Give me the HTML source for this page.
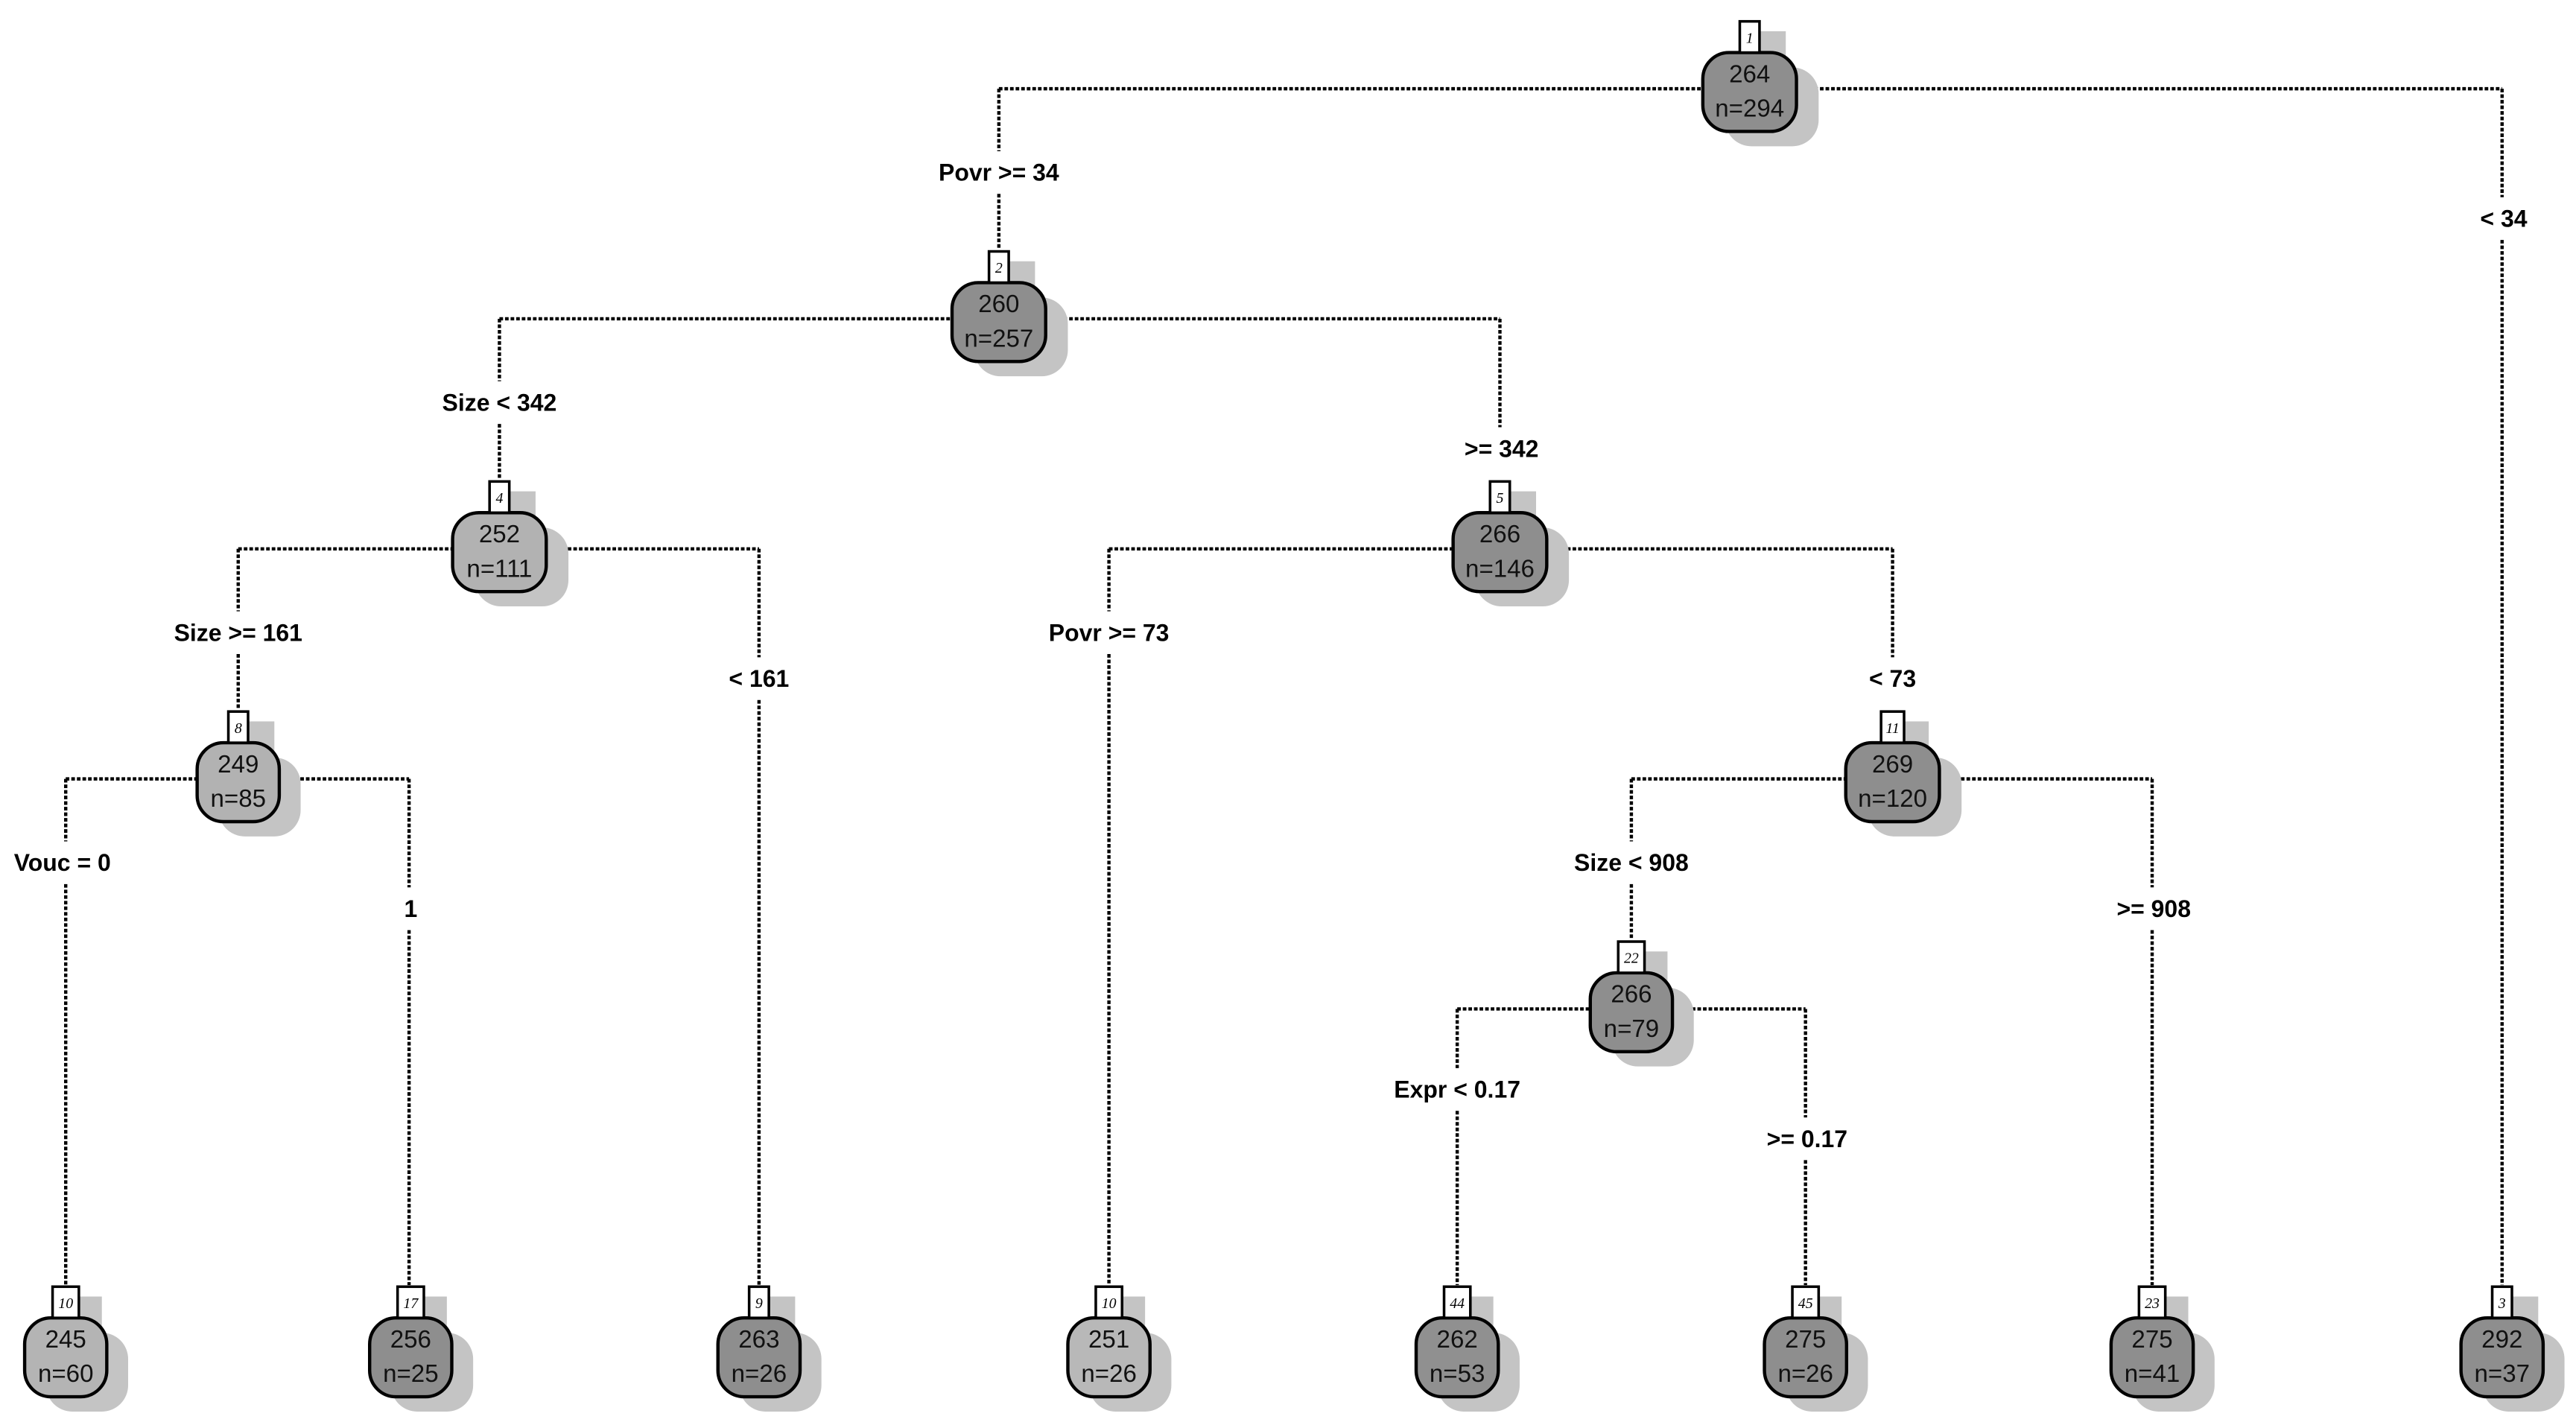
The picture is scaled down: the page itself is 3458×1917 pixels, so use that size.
<!DOCTYPE html>
<html><head><meta charset="utf-8"><style>
html,body{margin:0;padding:0;background:#fff;}
svg{display:block;}
.l{stroke:#000;stroke-width:2;stroke-dasharray:2.2 1.2;fill:none;}
.lab{font-family:"Liberation Sans",sans-serif;font-weight:bold;font-size:14.5px;text-anchor:middle;}
.nt{font-family:"Liberation Sans",sans-serif;font-size:15px;text-anchor:middle;fill:#111;}
.tg{font-family:"Liberation Serif",serif;font-style:italic;font-size:9px;text-anchor:middle;}
.s{fill:#c4c4c4;}
</style></head><body>
<svg width="3458" height="1917" viewBox="0 0 1568 869" preserveAspectRatio="none" xmlns="http://www.w3.org/2000/svg">
<rect width="1568" height="869" fill="#fff"/>
<g class="l">
<path d="M608 54H1523M608 54V92M608 118V152"/>
<path d="M1523 54V120M1523 146V782"/>
<path d="M304 194H913M304 194V232M304 258V292"/>
<path d="M913 194V260"/>
<path d="M145 334H462M145 334V372M145 398V432"/>
<path d="M462 334V400M462 426V782"/>
<path d="M675 334H1152M675 334V372M675 398V782"/>
<path d="M1152 334V400"/>
<path d="M40 474H249M40 474V512M40 538V782"/>
<path d="M249 474V540M249 566V782"/>
<path d="M993 474H1310M993 474V512M993 538V572"/>
<path d="M1310 474V540M1310 566V782"/>
<path d="M887 614H1099M887 614V650M887 676V782"/>
<path d="M1099 614V680M1099 706V782"/>
</g>
<g class="lab">
<text x="608" y="110">Povr &gt;= 34</text>
<text x="1524" y="138">&lt; 34</text>
<text x="304" y="250">Size &lt; 342</text>
<text x="914" y="278">&gt;= 342</text>
<text x="145" y="390">Size &gt;= 161</text>
<text x="462" y="418">&lt; 161</text>
<text x="675" y="390">Povr &gt;= 73</text>
<text x="1152" y="418">&lt; 73</text>
<text x="38" y="530">Vouc = 0</text>
<text x="250" y="558">1</text>
<text x="993" y="530">Size &lt; 908</text>
<text x="1311" y="558">&gt;= 908</text>
<text x="887" y="668">Expr &lt; 0.17</text>
<text x="1100" y="698">&gt;= 0.17</text>
</g>
<g transform="translate(1065,55)"><rect class="s" x="2" y="-36" width="20" height="44"/><rect class="s" x="-15" y="-14" width="57" height="48" rx="16"/><rect x="-28.5" y="-23" width="57" height="48" rx="16" fill="#8e8e8e" stroke="#000" stroke-width="2"/><rect x="-6" y="-42" width="12" height="19" fill="#fff" stroke="#000" stroke-width="1.6"/><text class="tg" x="0" y="-29">1</text><text class="nt" x="0" y="-5">264</text><text class="nt" x="0" y="16">n=294</text></g>
<g transform="translate(608,195)"><rect class="s" x="2" y="-36" width="20" height="44"/><rect class="s" x="-15" y="-14" width="57" height="48" rx="16"/><rect x="-28.5" y="-23" width="57" height="48" rx="16" fill="#8e8e8e" stroke="#000" stroke-width="2"/><rect x="-6" y="-42" width="12" height="19" fill="#fff" stroke="#000" stroke-width="1.6"/><text class="tg" x="0" y="-29">2</text><text class="nt" x="0" y="-5">260</text><text class="nt" x="0" y="16">n=257</text></g>
<g transform="translate(304,335)"><rect class="s" x="2" y="-36" width="20" height="44"/><rect class="s" x="-15" y="-14" width="57" height="48" rx="16"/><rect x="-28.5" y="-23" width="57" height="48" rx="16" fill="#b2b2b2" stroke="#000" stroke-width="2"/><rect x="-6" y="-42" width="12" height="19" fill="#fff" stroke="#000" stroke-width="1.6"/><text class="tg" x="0" y="-29">4</text><text class="nt" x="0" y="-5">252</text><text class="nt" x="0" y="16">n=111</text></g>
<g transform="translate(913,335)"><rect class="s" x="2" y="-36" width="20" height="44"/><rect class="s" x="-15" y="-14" width="57" height="48" rx="16"/><rect x="-28.5" y="-23" width="57" height="48" rx="16" fill="#8e8e8e" stroke="#000" stroke-width="2"/><rect x="-6" y="-42" width="12" height="19" fill="#fff" stroke="#000" stroke-width="1.6"/><text class="tg" x="0" y="-29">5</text><text class="nt" x="0" y="-5">266</text><text class="nt" x="0" y="16">n=146</text></g>
<g transform="translate(145,475)"><rect class="s" x="2" y="-36" width="20" height="44"/><rect class="s" x="-12" y="-14" width="50" height="48" rx="16"/><rect x="-25" y="-23" width="50" height="48" rx="16" fill="#b2b2b2" stroke="#000" stroke-width="2"/><rect x="-6" y="-42" width="12" height="19" fill="#fff" stroke="#000" stroke-width="1.6"/><text class="tg" x="0" y="-29">8</text><text class="nt" x="0" y="-5">249</text><text class="nt" x="0" y="16">n=85</text></g>
<g transform="translate(1152,475)"><rect class="s" x="2" y="-36" width="20" height="44"/><rect class="s" x="-15" y="-14" width="57" height="48" rx="16"/><rect x="-28.5" y="-23" width="57" height="48" rx="16" fill="#8e8e8e" stroke="#000" stroke-width="2"/><rect x="-7" y="-42" width="14" height="19" fill="#fff" stroke="#000" stroke-width="1.6"/><text class="tg" x="0" y="-29">11</text><text class="nt" x="0" y="-5">269</text><text class="nt" x="0" y="16">n=120</text></g>
<g transform="translate(993,615)"><rect class="s" x="2" y="-36" width="20" height="44"/><rect class="s" x="-12" y="-14" width="50" height="48" rx="16"/><rect x="-25" y="-23" width="50" height="48" rx="16" fill="#8e8e8e" stroke="#000" stroke-width="2"/><rect x="-8" y="-42" width="16" height="19" fill="#fff" stroke="#000" stroke-width="1.6"/><text class="tg" x="0" y="-29">22</text><text class="nt" x="0" y="-5">266</text><text class="nt" x="0" y="16">n=79</text></g>
<g transform="translate(40,825)"><rect class="s" x="2" y="-36" width="20" height="44"/><rect class="s" x="-12" y="-14" width="50" height="48" rx="16"/><rect x="-25" y="-23" width="50" height="48" rx="16" fill="#b4b4b4" stroke="#000" stroke-width="2"/><rect x="-8" y="-42" width="16" height="19" fill="#fff" stroke="#000" stroke-width="1.6"/><text class="tg" x="0" y="-29">10</text><text class="nt" x="0" y="-5">245</text><text class="nt" x="0" y="16">n=60</text></g>
<g transform="translate(250,825)"><rect class="s" x="2" y="-36" width="20" height="44"/><rect class="s" x="-12" y="-14" width="50" height="48" rx="16"/><rect x="-25" y="-23" width="50" height="48" rx="16" fill="#8e8e8e" stroke="#000" stroke-width="2"/><rect x="-8" y="-42" width="16" height="19" fill="#fff" stroke="#000" stroke-width="1.6"/><text class="tg" x="0" y="-29">17</text><text class="nt" x="0" y="-5">256</text><text class="nt" x="0" y="16">n=25</text></g>
<g transform="translate(462,825)"><rect class="s" x="2" y="-36" width="20" height="44"/><rect class="s" x="-12" y="-14" width="50" height="48" rx="16"/><rect x="-25" y="-23" width="50" height="48" rx="16" fill="#8e8e8e" stroke="#000" stroke-width="2"/><rect x="-6" y="-42" width="12" height="19" fill="#fff" stroke="#000" stroke-width="1.6"/><text class="tg" x="0" y="-29">9</text><text class="nt" x="0" y="-5">263</text><text class="nt" x="0" y="16">n=26</text></g>
<g transform="translate(675,825)"><rect class="s" x="2" y="-36" width="20" height="44"/><rect class="s" x="-12" y="-14" width="50" height="48" rx="16"/><rect x="-25" y="-23" width="50" height="48" rx="16" fill="#b8b8b8" stroke="#000" stroke-width="2"/><rect x="-8" y="-42" width="16" height="19" fill="#fff" stroke="#000" stroke-width="1.6"/><text class="tg" x="0" y="-29">10</text><text class="nt" x="0" y="-5">251</text><text class="nt" x="0" y="16">n=26</text></g>
<g transform="translate(887,825)"><rect class="s" x="2" y="-36" width="20" height="44"/><rect class="s" x="-12" y="-14" width="50" height="48" rx="16"/><rect x="-25" y="-23" width="50" height="48" rx="16" fill="#909090" stroke="#000" stroke-width="2"/><rect x="-8" y="-42" width="16" height="19" fill="#fff" stroke="#000" stroke-width="1.6"/><text class="tg" x="0" y="-29">44</text><text class="nt" x="0" y="-5">262</text><text class="nt" x="0" y="16">n=53</text></g>
<g transform="translate(1099,825)"><rect class="s" x="2" y="-36" width="20" height="44"/><rect class="s" x="-12" y="-14" width="50" height="48" rx="16"/><rect x="-25" y="-23" width="50" height="48" rx="16" fill="#8e8e8e" stroke="#000" stroke-width="2"/><rect x="-8" y="-42" width="16" height="19" fill="#fff" stroke="#000" stroke-width="1.6"/><text class="tg" x="0" y="-29">45</text><text class="nt" x="0" y="-5">275</text><text class="nt" x="0" y="16">n=26</text></g>
<g transform="translate(1310,825)"><rect class="s" x="2" y="-36" width="20" height="44"/><rect class="s" x="-12" y="-14" width="50" height="48" rx="16"/><rect x="-25" y="-23" width="50" height="48" rx="16" fill="#8e8e8e" stroke="#000" stroke-width="2"/><rect x="-8" y="-42" width="16" height="19" fill="#fff" stroke="#000" stroke-width="1.6"/><text class="tg" x="0" y="-29">23</text><text class="nt" x="0" y="-5">275</text><text class="nt" x="0" y="16">n=41</text></g>
<g transform="translate(1523,825)"><rect class="s" x="2" y="-36" width="20" height="44"/><rect class="s" x="-12" y="-14" width="50" height="48" rx="16"/><rect x="-25" y="-23" width="50" height="48" rx="16" fill="#8e8e8e" stroke="#000" stroke-width="2"/><rect x="-6" y="-42" width="12" height="19" fill="#fff" stroke="#000" stroke-width="1.6"/><text class="tg" x="0" y="-29">3</text><text class="nt" x="0" y="-5">292</text><text class="nt" x="0" y="16">n=37</text></g>
</svg>
</body></html>
